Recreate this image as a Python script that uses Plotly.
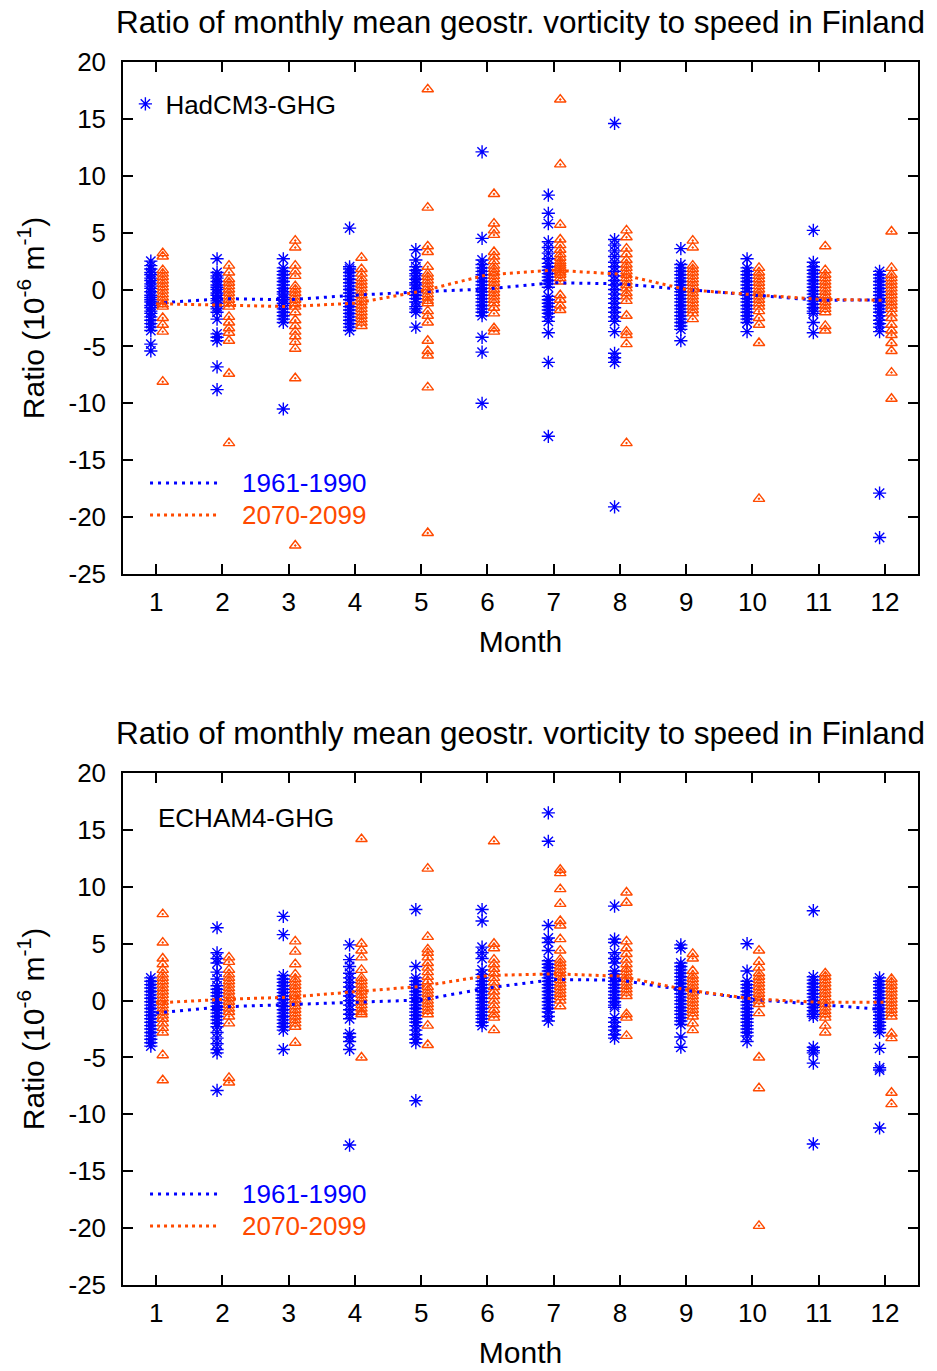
import plotly.graph_objects as go

# Data
months = list(range(1, 13))

# HadCM3-GHG, individual years per month
had_1961 = [
    [2.5, 2.1, 1.8, 1.5, 1.3, 1.0, 0.8, 0.5, 0.3, 0.1, -0.2, -0.5, -0.7, -0.9, -1.1, -1.4, -1.6, -1.9, -2.1, -2.4, -2.7, -3.0, -3.3, -3.6, -4.8, -5.4],
    [2.7, 1.5, 1.2, 1.0, 0.7, 0.4, 0.2, 0.0, -0.3, -0.5, -0.8, -1.0, -1.2, -1.5, -1.7, -2.0, -2.6, -3.9, -4.2, -4.5, -6.8, -8.8],
    [2.7, 1.9, 1.6, 1.3, 1.0, 0.7, 0.4, 0.1, -0.2, -0.4, -0.7, -0.9, -1.2, -1.4, -1.7, -2.0, -2.3, -2.6, -2.9, -10.5],
    [5.4, 2.0, 1.8, 1.5, 1.2, 0.9, 0.6, 0.3, 0.0, -0.3, -0.6, -0.9, -1.2, -1.5, -1.8, -2.1, -2.4, -2.7, -3.0, -3.3, -3.6],
    [3.5, 2.6, 2.0, 1.7, 1.4, 1.2, 0.9, 0.6, 0.4, 0.1, -0.2, -0.5, -0.8, -1.1, -1.5, -1.7, -2.0, -3.3],
    [12.1, 4.5, 2.6, 2.2, 1.9, 1.6, 1.3, 1.0, 0.7, 0.4, 0.1, -0.2, -0.5, -0.8, -1.1, -1.4, -1.7, -2.0, -2.3, -4.2, -5.5, -10.0],
    [8.3, 6.7, 5.8, 4.2, 3.7, 3.2, 2.7, 2.3, 2.0, 1.7, 1.4, 1.1, 0.8, 0.5, 0.2, -0.6, -0.9, -1.2, -1.5, -1.8, -2.1, -2.4, -2.8, -3.8, -6.4, -12.9],
    [14.6, 4.4, 3.9, 3.4, 2.9, 2.4, 2.0, 1.6, 1.2, 0.8, 0.4, 0.0, -0.4, -0.8, -1.2, -1.6, -2.0, -2.4, -2.8, -3.7, -5.6, -6.0, -6.4, -19.1],
    [3.6, 2.2, 1.9, 1.6, 1.3, 1.0, 0.7, 0.4, 0.1, -0.2, -0.5, -0.8, -1.1, -1.4, -1.7, -2.0, -2.3, -2.6, -2.9, -3.2, -3.5, -4.5],
    [2.7, 1.9, 1.6, 1.3, 1.0, 0.7, 0.4, 0.1, -0.2, -0.5, -0.8, -1.1, -1.4, -1.7, -2.0, -2.3, -2.6, -2.9, -3.7],
    [5.2, 2.4, 2.0, 1.7, 1.4, 1.1, 0.8, 0.5, 0.2, -0.1, -0.4, -0.7, -1.0, -1.3, -1.6, -1.9, -2.1, -2.9, -3.8],
    [1.6, 1.3, 1.0, 0.7, 0.4, 0.1, -0.2, -0.5, -0.8, -1.1, -1.4, -1.7, -2.0, -2.3, -2.7, -3.0, -3.3, -3.7, -17.9, -21.8],
]
had_2070 = [
    [3.2, 2.9, 1.7, 1.4, 1.1, 0.8, 0.5, 0.2, -0.1, -0.4, -0.7, -1.0, -1.3, -1.5, -2.5, -3.1, -3.7, -8.1],
    [2.1, 1.5, 0.9, 0.6, 0.3, 0.0, -0.3, -0.6, -0.9, -1.2, -1.5, -2.4, -2.9, -3.4, -3.8, -4.5, -7.4, -13.5],
    [4.3, 3.7, 2.1, 1.6, 1.2, 0.3, 0.0, -0.3, -0.6, -0.9, -1.2, -1.5, -2.0, -2.7, -3.2, -3.7, -4.1, -4.6, -5.2, -7.8, -22.5],
    [2.8, 1.8, 1.4, 1.0, 0.7, 0.4, 0.1, -0.2, -0.5, -0.8, -1.1, -1.4, -1.7, -2.0, -2.3, -2.6, -2.9, -3.2],
    [17.6, 7.2, 3.8, 3.3, 2.0, 1.4, 1.1, 0.8, 0.5, 0.2, -0.1, -0.4, -0.7, -1.0, -1.2, -1.9, -2.3, -2.9, -4.5, -5.4, -5.8, -8.6, -21.4],
    [8.4, 5.8, 5.2, 4.8, 3.3, 2.9, 2.5, 2.1, 1.8, 1.5, 1.2, 0.9, 0.6, 0.3, 0.0, -0.3, -0.6, -0.9, -1.2, -1.6, -2.1, -3.4, -3.7],
    [16.7, 11.0, 5.7, 4.4, 3.9, 3.5, 3.1, 2.8, 2.5, 2.3, 2.1, 1.9, 1.7, 1.5, 1.3, 1.0, 0.7, -0.5, -0.9, -1.4, -1.8],
    [5.2, 4.6, 3.6, 3.1, 2.6, 2.2, 1.9, 1.6, 1.3, 1.0, 0.7, 0.4, 0.1, -0.3, -0.6, -1.0, -2.3, -3.7, -4.0, -4.8, -13.5],
    [4.3, 3.7, 2.1, 1.8, 1.5, 1.2, 0.9, 0.6, 0.3, 0.0, -0.3, -0.6, -0.9, -1.2, -1.5, -1.8, -2.1, -2.6],
    [1.9, 1.5, 1.2, 0.9, 0.6, 0.3, 0.0, -0.3, -0.6, -0.9, -1.2, -1.5, -1.9, -2.5, -3.1, -4.7, -18.4],
    [3.8, 1.7, 1.3, 1.0, 0.7, 0.4, 0.1, -0.2, -0.5, -0.8, -1.1, -1.4, -1.7, -2.0, -3.2, -3.6],
    [5.1, 1.9, 1.3, 1.0, 0.7, 0.4, 0.1, -0.2, -0.5, -0.8, -1.1, -1.4, -1.7, -2.1, -2.5, -3.1, -3.6, -4.0, -4.7, -5.4, -7.3, -9.6],
]
had_mean_1961 = [-1.2, -0.8, -0.9, -0.5, -0.2, 0.05, 0.6, 0.5, 0.0, -0.45, -0.95, -0.9]
had_mean_2070 = [-1.25, -1.4, -1.5, -1.2, -0.15, 1.3, 1.7, 1.35, 0.0, -0.45, -0.85, -0.95]

# ECHAM4-GHG
ech_1961 = [
    [2.0, 1.7, 1.4, 1.1, 0.8, 0.5, 0.2, -0.1, -0.4, -0.7, -1.0, -1.3, -1.6, -1.9, -2.2, -2.5, -2.8, -3.1, -3.4, -3.7, -4.0],
    [6.4, 4.2, 3.7, 3.3, 2.5, 1.9, 1.3, 1.0, 0.7, 0.4, 0.1, -0.2, -0.5, -0.8, -1.1, -1.4, -1.7, -2.0, -2.3, -2.8, -3.3, -3.8, -4.3, -4.6, -7.9],
    [7.4, 5.8, 2.2, 1.9, 1.6, 1.3, 1.0, 0.7, 0.4, 0.1, -0.2, -0.5, -0.8, -1.1, -1.4, -1.7, -2.0, -2.3, -2.6, -4.3],
    [4.9, 3.6, 3.0, 2.4, 2.0, 1.6, 1.2, 0.8, 0.4, 0.0, -0.4, -0.8, -1.2, -1.6, -2.9, -3.2, -3.6, -4.3, -12.7],
    [8.0, 3.0, 2.0, 1.7, 1.4, 1.1, 0.8, 0.5, 0.2, -0.1, -0.4, -0.7, -1.0, -1.3, -1.6, -1.9, -2.2, -2.6, -3.0, -3.4, -3.7, -8.8],
    [8.0, 7.0, 4.7, 4.2, 3.7, 2.7, 2.3, 2.0, 1.7, 1.4, 1.1, 0.8, 0.5, 0.2, -0.1, -0.4, -0.7, -1.0, -1.3, -1.6, -1.9, -2.2],
    [16.5, 14.0, 6.6, 5.5, 5.1, 4.4, 3.5, 3.2, 2.9, 2.6, 2.3, 2.0, 1.7, 1.4, 1.1, 0.8, 0.5, 0.2, -0.1, -0.4, -0.7, -1.0, -1.4, -1.8],
    [8.3, 5.4, 5.1, 4.2, 3.7, 3.3, 2.6, 2.3, 2.0, 1.7, 1.4, 1.1, 0.8, 0.5, 0.2, -0.1, -0.4, -0.6, -1.5, -1.9, -2.3, -2.6, -3.0, -3.3],
    [4.9, 4.6, 3.3, 3.0, 2.7, 2.4, 2.1, 1.8, 1.5, 1.2, 0.9, 0.6, 0.3, 0.0, -0.3, -0.6, -0.9, -1.2, -1.5, -1.8, -2.1, -3.2, -4.1],
    [5.0, 2.6, 1.7, 1.4, 1.1, 0.8, 0.5, 0.2, -0.1, -0.4, -0.7, -1.0, -1.3, -1.6, -1.9, -2.2, -2.5, -2.8, -3.1, -3.6],
    [7.9, 2.1, 1.8, 1.5, 1.2, 0.9, 0.6, 0.3, 0.0, -0.3, -0.6, -0.9, -1.2, -1.4, -4.1, -4.4, -4.6, -5.5, -12.6],
    [2.0, 1.7, 1.4, 1.1, 0.8, 0.5, 0.2, -0.1, -0.4, -0.7, -1.0, -1.3, -1.6, -1.9, -2.2, -2.5, -2.8, -4.2, -5.9, -6.1, -11.2],
]
ech_2070 = [
    [7.6, 5.1, 3.7, 3.2, 2.7, 2.3, 2.0, 1.7, 1.4, 1.1, 0.8, 0.5, 0.2, -0.1, -0.4, -0.7, -1.0, -1.3, -1.6, -2.0, -2.4, -2.8, -4.8, -7.0],
    [3.8, 3.4, 2.7, 2.3, 2.0, 1.7, 1.4, 1.1, 0.8, 0.5, 0.2, -0.1, -0.4, -0.7, -1.0, -1.4, -2.0, -6.8, -7.2],
    [5.2, 4.3, 3.2, 2.3, 1.9, 1.6, 1.3, 1.0, 0.7, 0.4, 0.1, -0.2, -0.5, -0.8, -1.1, -1.4, -1.7, -2.0, -2.3, -3.7],
    [14.2, 5.0, 4.4, 3.8, 2.7, 2.0, 1.7, 1.4, 1.1, 0.8, 0.5, 0.2, -0.1, -0.4, -0.7, -1.0, -1.2, -5.0],
    [11.6, 5.6, 4.5, 4.2, 3.8, 3.3, 2.9, 2.5, 2.1, 1.7, 1.2, 0.9, 0.6, 0.3, 0.0, -0.3, -0.6, -0.9, -1.2, -2.2, -3.9],
    [14.0, 5.0, 4.6, 3.6, 3.2, 2.8, 2.4, 2.0, 1.6, 1.2, 0.8, 0.4, 0.0, -0.4, -0.8, -1.2, -1.5, -2.6],
    [11.5, 11.2, 9.8, 8.5, 7.0, 6.6, 5.4, 4.4, 3.6, 3.3, 3.0, 2.7, 2.4, 2.1, 1.8, 1.5, 1.2, 0.9, 0.6, 0.3, 0.0, -0.5],
    [9.5, 8.6, 5.2, 4.6, 4.1, 3.6, 3.2, 2.8, 2.5, 2.2, 1.9, 1.6, 1.3, 1.0, 0.7, 0.4, -1.2, -1.5, -3.1],
    [4.1, 3.7, 2.6, 2.2, 1.9, 1.6, 1.3, 1.0, 0.7, 0.4, 0.1, -0.2, -0.5, -0.8, -1.1, -1.4, -2.0, -2.6],
    [4.4, 3.4, 2.9, 2.4, 2.1, 1.8, 1.5, 1.2, 0.9, 0.6, 0.3, 0.0, -0.3, -1.1, -5.0, -7.7, -19.8],
    [2.4, 2.1, 1.8, 1.5, 1.2, 0.9, 0.6, 0.3, 0.0, -0.3, -0.6, -0.9, -1.2, -1.5, -2.2, -2.8],
    [1.9, 1.6, 1.3, 1.0, 0.7, 0.4, 0.1, -0.2, -0.5, -0.8, -1.1, -1.4, -2.9, -3.3, -8.1, -9.1],
]
ech_mean_1961 = [-1.1, -0.55, -0.35, -0.15, 0.05, 1.1, 1.85, 1.8, 0.9, 0.1, -0.35, -0.8]
ech_mean_2070 = [-0.2, 0.1, 0.3, 0.8, 1.25, 2.2, 2.35, 2.15, 0.95, 0.15, -0.15, -0.15]

ytick_vals = [-25, -20, -15, -10, -5, 0, 5, 10, 15, 20]
ytick_text = ["-25", "-20", "-15", "-10", "-5", "0", "5", "10", "15", "20"]

title_text = "Ratio of monthly mean geostr. vorticity to speed in Finland"
period_names = ["1961-1990", "2070-2099"]
model_names = ["HadCM3-GHG", "ECHAM4-GHG"]

BLUE = "#0000ff"
ORANGE = "#ff4a00"
FONT = "Liberation Sans, Arial, Helvetica, sans-serif"
off_old, off_new = -0.08, 0.10


def spread(cols, off):
    xs, ys = [], []
    for m, vals in zip(months, cols):
        xs += [m + off] * len(vals)
        ys += vals
    return xs, ys


fig = go.Figure()

panels = [
    ("x", "y", had_1961, had_2070, had_mean_1961, had_mean_2070),
    ("x2", "y2", ech_1961, ech_2070, ech_mean_1961, ech_mean_2070),
]
for k, (xa, ya, old, new, mold, mnew) in enumerate(panels):
    x, y = spread(old, off_old)
    fig.add_trace(go.Scatter(
        x=x, y=y, xaxis=xa, yaxis=ya, mode="markers",
        name=model_names[k], showlegend=(k == 0),
        marker=dict(symbol="asterisk-open", size=11, color=BLUE,
                    line=dict(color=BLUE, width=1.4)),
    ))
    x, y = spread(new, off_new)
    fig.add_trace(go.Scatter(
        x=x, y=y, xaxis=xa, yaxis=ya, mode="markers", showlegend=False,
        marker=dict(symbol="triangle-up-open-dot", size=10, color=ORANGE,
                    line=dict(color=ORANGE, width=1.4)),
    ))
    fig.add_trace(go.Scatter(
        x=months, y=mold, xaxis=xa, yaxis=ya, mode="lines", showlegend=False,
        line=dict(color=BLUE, width=3, dash="3px,5px"),
    ))
    fig.add_trace(go.Scatter(
        x=months, y=mnew, xaxis=xa, yaxis=ya, mode="lines", showlegend=False,
        line=dict(color=ORANGE, width=3, dash="3px,4px"),
    ))

axis_common = dict(
    showline=True, linecolor="black", linewidth=1.5, mirror="ticks",
    ticks="inside", ticklen=10, tickwidth=1.5, tickcolor="black",
    showgrid=False, zeroline=False, automargin=False,
    tickfont=dict(family=FONT, size=26, color="black"),
)
xaxis = dict(axis_common, range=[0.5, 12.5], tickvals=months, ticklabelstandoff=4,
             title=dict(text="Month", font=dict(family=FONT, size=30, color="black"), standoff=15))
yaxis = dict(axis_common, range=[-25, 20], tickvals=ytick_vals, ticktext=ytick_text,
             ticklabelstandoff=10,
             title=dict(text="Ratio (10<sup>-6</sup> m<sup>-1</sup>)",
                        font=dict(family=FONT, size=30, color="black"), standoff=15))

# the page body adds 8 px on the left and top, so the figure is 8 px smaller
fig.update_layout(
    width=929, height=1363,
    margin=dict(l=115, r=19, t=54, b=86, autoexpand=False),
    plot_bgcolor="white", paper_bgcolor="white",
    font=dict(family=FONT, color="black"),
    xaxis=dict(xaxis, anchor="y", domain=[0, 1]),
    yaxis=dict(yaxis, anchor="x", domain=[0.5814, 1]),
    xaxis2=dict(xaxis, anchor="y2", domain=[0, 1]),
    yaxis2=dict(yaxis, anchor="x2", domain=[0, 0.4186]),
    legend=dict(x=0.003, y=0.9657, xanchor="left", yanchor="middle",
                bgcolor="rgba(0,0,0,0)", borderwidth=0, itemwidth=30,
                font=dict(family=FONT, size=26, color="black")),
    showlegend=True,
)

# titles
for yp in [1.0327, 0.4513]:
    fig.add_annotation(text=title_text, xref="paper", yref="paper", x=0.5, y=yp,
                       xanchor="center", yanchor="middle", showarrow=False,
                       font=dict(family=FONT, size=31.5, color="black"))

fig.add_annotation(text=model_names[1], xref="x2 domain", yref="y2 domain",
                   x=0.041, y=0.912, xanchor="left", yanchor="middle", showarrow=False,
                   font=dict(family=FONT, size=26, color="black"))

# line keys for the period means
for xr, yr in [("x domain", "y domain"), ("x2 domain", "y2 domain")]:
    for yk, col, dash, lab in [(0.1777, BLUE, "3px,5px", period_names[0]),
                               (0.1152, ORANGE, "3px,4px", period_names[1])]:
        fig.add_shape(type="line", xref=xr, yref=yr, x0=0.034, x1=0.122, y0=yk, y1=yk,
                      line=dict(color=col, width=3, dash=dash))
        fig.add_annotation(text=lab, xref=xr, yref=yr, x=0.147, y=yk,
                           xanchor="left", yanchor="middle", showarrow=False,
                           font=dict(family=FONT, size=26, color=col))

fig.write_html("out.html")
